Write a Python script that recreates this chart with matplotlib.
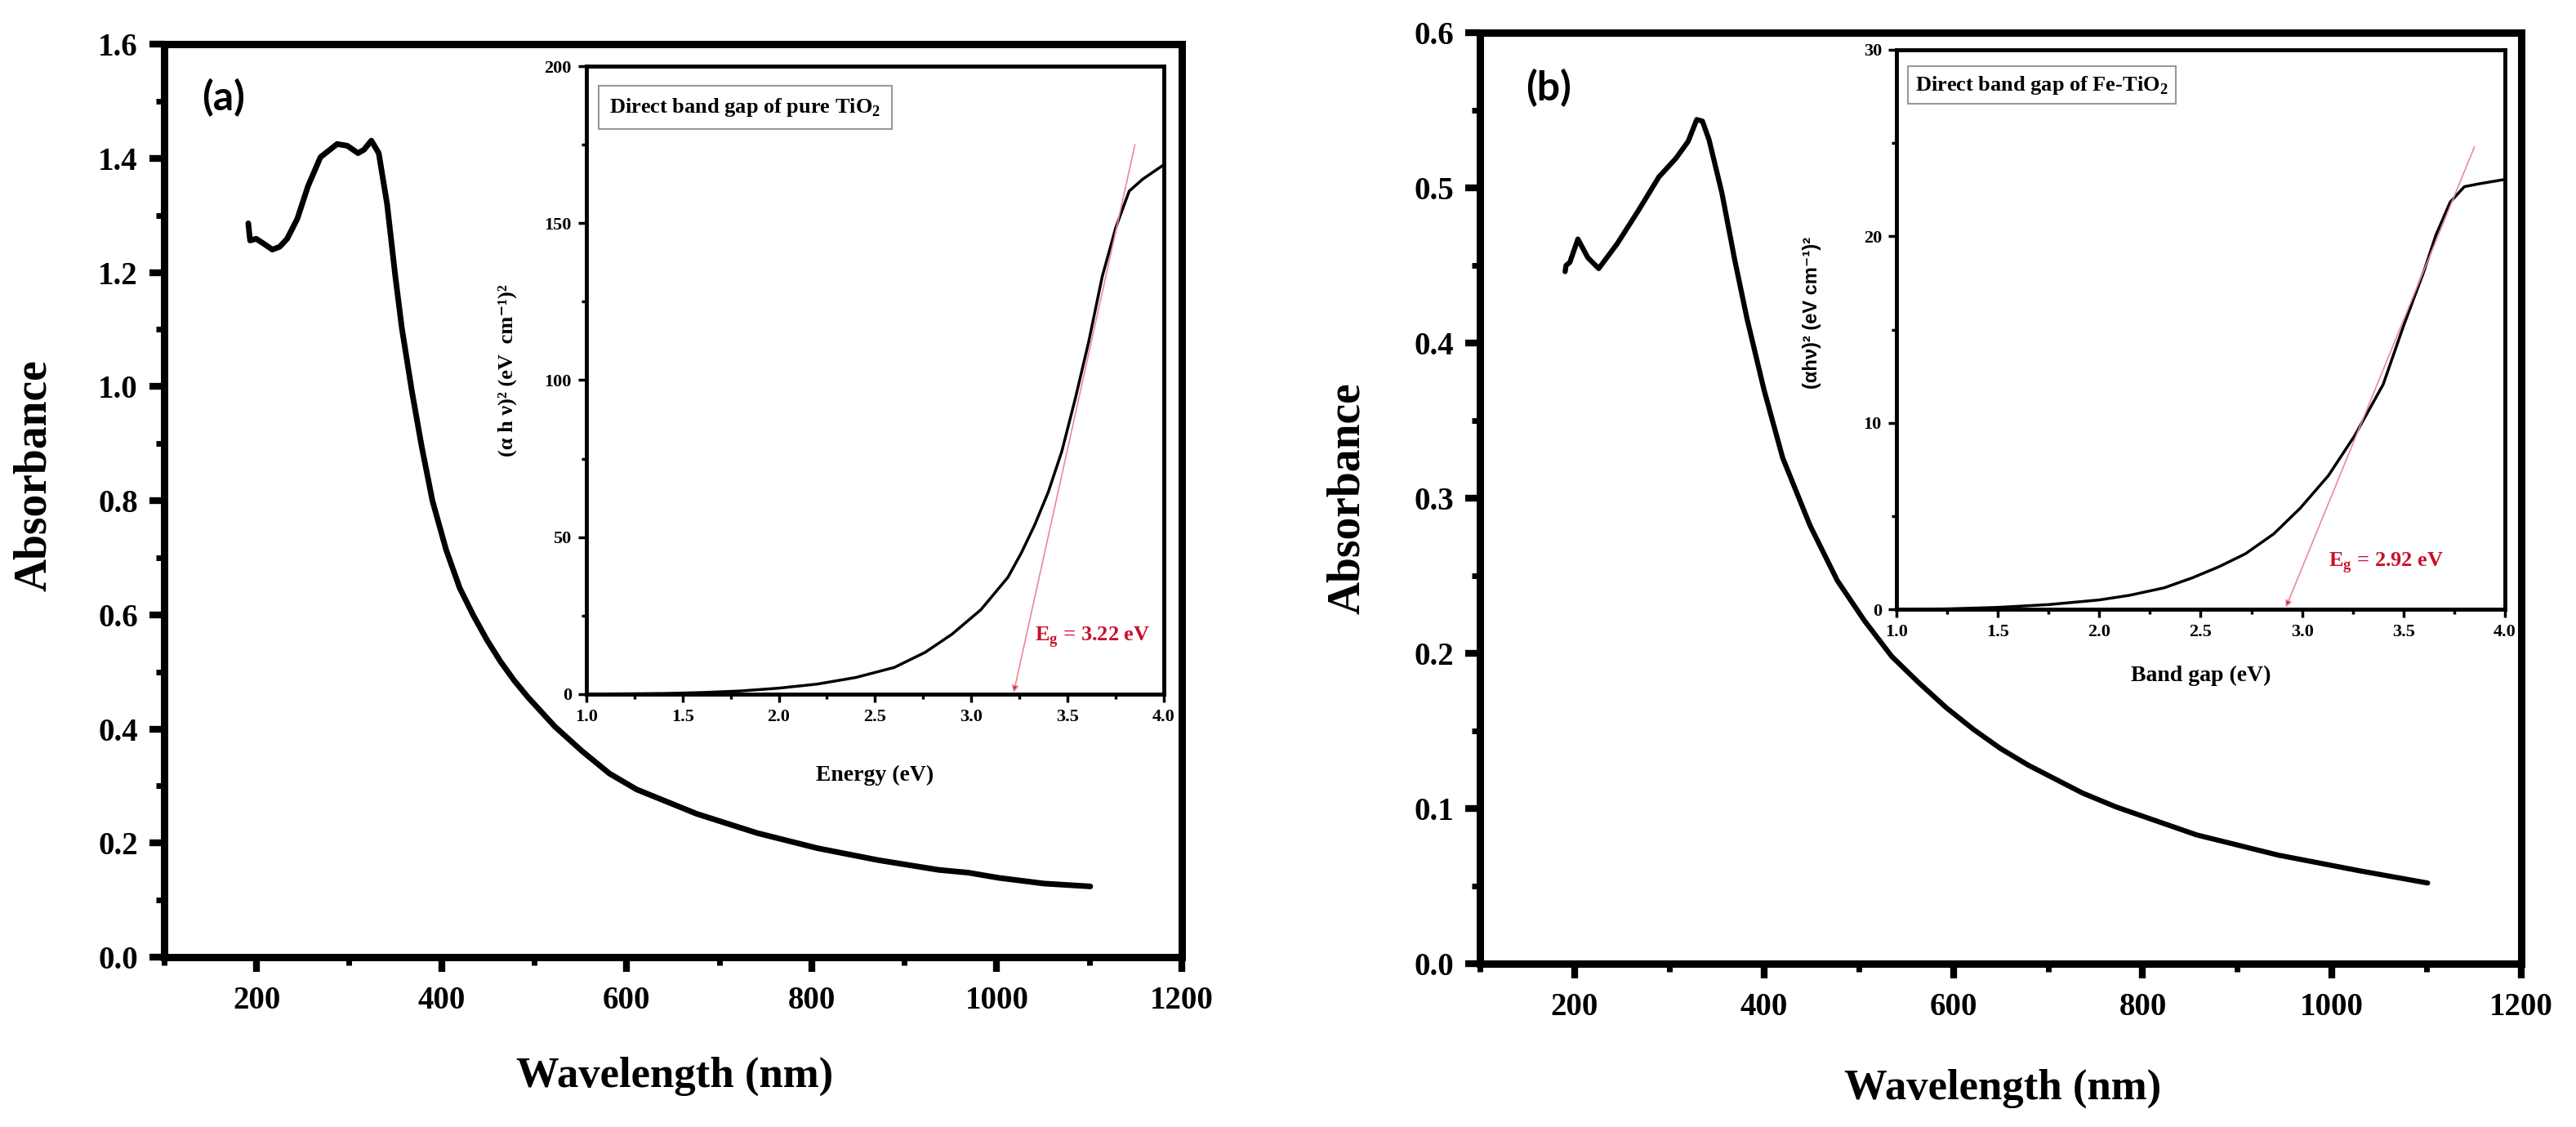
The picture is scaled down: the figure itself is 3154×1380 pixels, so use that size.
import numpy as np
import matplotlib
matplotlib.use("Agg")
import matplotlib.pyplot as plt
from matplotlib.ticker import MultipleLocator


# UV-Vis absorbance of pure TiO2 (a)
wl_a = [191, 192, 193, 199.5, 208, 217, 225, 233, 244, 255.5, 269, 287, 298, 309.6, 316, 324,
        332, 341, 350, 357, 368, 378.4, 390, 404.8, 419.5, 434.2, 448.9, 463.6, 478.3, 493,
        522.4, 551.8, 581.2, 610.6, 676, 741, 806, 872, 937, 969.5, 1002, 1051, 1101]
abs_a = [1.286, 1.270, 1.256, 1.259, 1.250, 1.240, 1.245, 1.259, 1.294, 1.351, 1.402, 1.425,
         1.422, 1.409, 1.415, 1.431, 1.409, 1.320, 1.192, 1.102, 0.990, 0.895, 0.800, 0.714,
         0.647, 0.599, 0.556, 0.518, 0.485, 0.456, 0.404, 0.361, 0.322, 0.294, 0.251, 0.2175,
         0.191, 0.170, 0.153, 0.148, 0.139, 0.129, 0.124]

# UV-Vis absorbance of Fe-TiO2 (b)
wl_b = [190, 191, 195, 203.5, 214, 225.5, 245, 267, 289, 307, 320, 329, 335, 342, 355.5, 369,
        382, 400, 419.8, 448.6, 477.4, 506.2, 535, 563.7, 592.5, 621.3, 650, 679, 707.7, 736.4,
        772, 857, 943, 1028, 1101]
abs_b = [0.446, 0.450, 0.452, 0.467, 0.455, 0.448, 0.464, 0.485, 0.507, 0.519, 0.530, 0.544,
         0.543, 0.531, 0.497, 0.454, 0.416, 0.370, 0.326, 0.2825, 0.247, 0.221, 0.198, 0.181,
         0.165, 0.151, 0.1386, 0.128, 0.119, 0.110, 0.101, 0.083, 0.070, 0.060, 0.052]

# Tauc plot, pure TiO2
en_a = [1.0, 1.2, 1.4, 1.6, 1.8, 2.0, 2.2, 2.4, 2.6, 2.76, 2.9, 3.05, 3.19, 3.26, 3.33, 3.4,
        3.47, 3.54, 3.61, 3.68, 3.75, 3.82, 3.89, 4.0]
tauc_a = [0.0, 0.1, 0.2, 0.5, 1.0, 1.9, 3.2, 5.3, 8.5, 13.3, 19.1, 26.9, 37.2, 45.0, 54.0, 64.4,
          77.3, 94.1, 112.3, 133.0, 148.5, 160.2, 164.0, 168.6]

# Tauc plot, Fe-TiO2
en_b = [1.0, 1.25, 1.5, 1.75, 2.0, 2.15, 2.32, 2.46, 2.59, 2.72, 2.86, 2.99, 3.13, 3.26, 3.4,
        3.5, 3.6, 3.66, 3.73, 3.8, 3.87, 4.0]
tauc_b = [0.0, 0.02, 0.1, 0.25, 0.5, 0.75, 1.15, 1.69, 2.28, 2.97, 4.04, 5.41, 7.17, 9.32,
          12.06, 15.19, 18.1, 20.07, 21.83, 22.66, 22.81, 23.05]

# Tangent lines (start at Eg, end point) and band gap values
eg_a = 3.22
tan_a_end = (3.85, 175)
eg_b = 2.92
tan_b_end = (3.85, 24.8)

plt.rcParams['font.family'] = ['Liberation Serif', 'DejaVu Serif']
plt.rcParams['font.weight'] = 'bold'
plt.rcParams['mathtext.fontset'] = 'custom'
plt.rcParams['mathtext.rm'] = 'Liberation Serif:bold'
plt.rcParams['mathtext.bf'] = 'Liberation Serif:bold'

red_text = '#c8102e'
tan_color = '#e88a95'

fig = plt.figure(figsize=(31.54, 13.8), dpi=100)


def style_main(ax, ymajor, yminor, ymax):
    ax.set_xlim(100, 1200)
    ax.set_ylim(0, ymax)
    ax.xaxis.set_major_locator(MultipleLocator(200))
    ax.xaxis.set_minor_locator(MultipleLocator(100))
    ax.yaxis.set_major_locator(MultipleLocator(ymajor))
    ax.yaxis.set_minor_locator(MultipleLocator(yminor))
    for s in ax.spines.values():
        s.set_linewidth(6.5)
    ax.tick_params(which='major', direction='out', length=13, width=6, labelsize=28)
    ax.tick_params(which='minor', direction='out', length=7, width=5)
    ax.tick_params(axis='x', which='major', pad=12)
    ax.tick_params(axis='y', which='major', pad=10)
    ax.set_xlabel("Wavelength (nm)", fontsize=38, fontweight='bold')
    ax.set_ylabel("Absorbance", fontsize=40, fontweight='bold')


def style_inset(ax, ymax, ymajor, yminor):
    ax.set_xlim(1.0, 4.0)
    ax.set_ylim(0, ymax)
    ax.xaxis.set_major_locator(MultipleLocator(0.5))
    ax.xaxis.set_minor_locator(MultipleLocator(0.25))
    ax.yaxis.set_major_locator(MultipleLocator(ymajor))
    ax.yaxis.set_minor_locator(MultipleLocator(yminor))
    for s in ax.spines.values():
        s.set_linewidth(3.5)
    ax.tick_params(which='major', direction='out', length=7, width=2.5, labelsize=16, pad=6)
    ax.tick_params(which='minor', direction='out', length=4, width=2.5)


# Panel (a)
ax1 = fig.add_axes([0.0637, 0.1507, 0.3951, 0.8101])
ax1.plot(wl_a, abs_a, color='black', lw=5, solid_joinstyle='round', solid_capstyle='round')
style_main(ax1, 0.2, 0.1, 1.6)
ax1.xaxis.set_label_coords(0.502, -0.109)
ax1.yaxis.set_label_coords(-0.107, 0.528)
ax1.text(0.058, 0.941, "(a)", transform=ax1.transAxes, fontsize=36, fontweight='bold',
         family='Lato', ha='center', va='center')

ins1 = fig.add_axes([0.2276, 0.3841, 0.2242, 0.5572])
ins1.plot(en_a, tauc_a, color='black', lw=2.5, solid_joinstyle='round')
style_inset(ins1, 200, 50, 25)
ins1.annotate('', xy=(eg_a, 0.5), xytext=tan_a_end,
              arrowprops=dict(arrowstyle='-|>', ec=tan_color, fc=red_text, lw=1.2,
                              mutation_scale=12, shrinkA=0, shrinkB=0))
ins1.text(3.33, 17, r"E$_{\mathbf{g}}$ = 3.22 eV", color=red_text, fontsize=19,
          fontweight='bold', ha='left', va='baseline')
ins1.text(0.04, 0.934, r"Direct band gap of pure TiO$_{\mathbf{2}}$", transform=ins1.transAxes,
          fontsize=19, fontweight='bold', ha='left', va='center',
          bbox=dict(boxstyle='square,pad=0.5', fc='white', ec='#999999', lw=1.5))
ins1.set_xlabel("Energy (eV)", fontsize=20, fontweight='bold')
ins1.set_ylabel("(α h ν)² (eV  cm⁻¹)²", fontsize=19, fontweight='bold')
ins1.xaxis.set_label_coords(0.5, -0.113)
ins1.yaxis.set_label_coords(-0.12, 0.516)

# Panel (b)
ax2 = fig.add_axes([0.5745, 0.1449, 0.4043, 0.8261])
ax2.plot(wl_b, abs_b, color='black', lw=4.5, solid_joinstyle='round', solid_capstyle='round')
style_main(ax2, 0.1, 0.05, 0.6)
ax2.xaxis.set_label_coords(0.502, -0.113)
ax2.yaxis.set_label_coords(-0.107, 0.5)
ax2.text(0.066, 0.941, "(b)", transform=ax2.transAxes, fontsize=36, fontweight='bold',
         family='Lato', ha='center', va='center')

ins2 = fig.add_axes([0.7362, 0.4594, 0.2362, 0.4964])
ins2.plot(en_b, tauc_b, color='black', lw=2.5, solid_joinstyle='round')
style_inset(ins2, 30, 10, 5)
ins2.annotate('', xy=(eg_b, 0.1), xytext=tan_b_end,
              arrowprops=dict(arrowstyle='-|>', ec=tan_color, fc=red_text, lw=1.2,
                              mutation_scale=12, shrinkA=0, shrinkB=0))
ins2.text(3.13, 2.3, r"E$_{\mathbf{g}}$ = 2.92 eV", color=red_text, fontsize=19,
          fontweight='bold', ha='left', va='baseline')
ins2.text(0.031, 0.937, r"Direct band gap of Fe-TiO$_{\mathbf{2}}$", transform=ins2.transAxes,
          fontsize=19, fontweight='bold', ha='left', va='center',
          bbox=dict(boxstyle='square,pad=0.35', fc='white', ec='#999999', lw=1.5))
ins2.set_xlabel("Band gap (eV)", fontsize=20, fontweight='bold')
ins2.set_ylabel("(αhν)² (eV cm⁻¹)²", fontsize=17, fontweight='bold',
                family=['Liberation Sans', 'DejaVu Sans'])
ins2.xaxis.set_label_coords(0.5, -0.101)
ins2.yaxis.set_label_coords(-0.123, 0.53)

fig.savefig("out.png", dpi=100, facecolor='white')
